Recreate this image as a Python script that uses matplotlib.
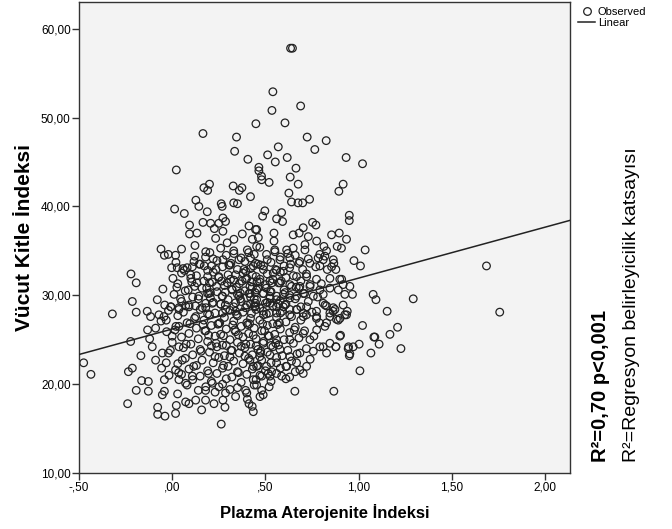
import matplotlib
matplotlib.use("Agg")
import matplotlib.pyplot as plt
from matplotlib.lines import Line2D

plt.rcParams['font.family'] = ['Liberation Sans', 'DejaVu Sans']

# points, outer / sparse part
api_outer = [0.635, 0.645, 0.54, 0.689, 0.535, 0.449, 0.605, 0.165, 0.345, 0.724, 0.826, 0.335, 0.569, 0.765,
             0.512, 0.406, 0.617, 0.553, 0.933, 1.021, 0.022, 0.465, 0.465, 0.664, 0.479, 0.52, 0.48, 0.633,
             0.676, 0.917, 0.894, 0.2, 0.17, 0.19, 0.327, 0.374, 0.36, 0.42, 0.626, 0.737, 0.127, 0.263, 0.33,
             0.35, 0.64, 0.675, 0.70,
             0.143, 0.268, 0.013, 0.065, 0.188, 0.165, 0.206, 0.25, 0.272, 0.286, 0.093, 0.133, 0.093, 0.122,
             0.226, 0.233, 0.272, 0.295, 0.331, 0.376, 0.412, 0.447, 0.43, -0.06, -0.042, -0.021, 0.018, -0.003,
             0.027, 0.058, 0.004, 0.099, 0.117, 0.108, 0.086, 0.179, 0.202, 0.172, 0.211, 0.19, 0.133, 0.238,
             0.25, 0.272, 0.304, 0.331, 0.358, 0.385, 0.403, 0.42, 0.447, 0.313, 0.34, 0.394, 0.43, -0.221,
             -0.193, -0.214, -0.193, -0.134, -0.116, -0.321, -0.007, 0.036, 0.072, 0.143, 0.197, 0.161, 0.215,
             0.268, 0.322, 0.358, 0.412, 0.447, 0.286, 0.34, 0.394, -0.044, -0.071,
             0.497, 0.485, 0.587, 0.56, 0.592, 0.95, 0.95, 0.753, 0.771, 0.703, 0.649, 0.681, 0.73, 0.855,
             0.896, 0.935, 0.908, 0.885, 1.035, 0.975, 1.01, 0.546, 0.546, 0.453, 0.462, 0.614, 0.649, 0.712,
             0.712, 0.775, 0.814, 0.792, 0.783, 0.819, 0.864, 0.855, 0.832, 0.878, 0.453, 0.506, 0.551, 0.578,
             0.631, 0.685, 0.739, 0.792, 0.435, 0.489, 0.542, 0.596, 0.667, 0.721, 0.774, 0.846, 0.909, 0.953,
             0.967, 0.926, 0.891, 0.846, 0.792, 0.739, 0.685, 0.631, 0.578, 0.524, 0.471, 1.078, 1.093, 1.293,
             1.153, 0.917, 0.939, 0.864, 0.81, 0.774, 0.721, 0.667, 0.596, 0.524, 0.453, 0.417, 0.453, 0.488,
             0.524, 0.56, 0.596, 0.631, 0.667, 0.703, 0.757, 0.81, 0.417, 0.444, 0.488, 0.56, 0.631, 0.703,
             0.774, 0.846, 0.9,
             -0.223, -0.475, -0.436, -0.168, -0.235, -0.214, -0.164, -0.128, -0.193, -0.128, -0.239, -0.078,
             -0.078, -0.039, 0.018, 0.022, 0.072, 0.09, 0.158, 0.263, 0.224, 0.283, 0.272, 0.403, 0.429, 0.412,
             -0.053, -0.042, 0.029, -0.132, -0.089, -0.121, -0.107, -0.089, -0.053, -0.032, -0.057, -0.017,
             -0.042, -0.032, -0.008, 0.036, 0.09, 0.126, 0.036, 0.0, 0.036, 0.054, 0.018, 0.036, 0.072, 0.108,
             0.179, 0.215, 0.251, 0.286, 0.34, 0.394, 0.179, 0.126,
             1.021, 1.209, 1.168, 1.087, 1.11, 1.227, 1.066, 1.007, 0.946, 0.971, 1.003, 0.953, 0.903, 0.878,
             0.935, 0.891, 0.873, 0.867, 0.658, 0.685, 0.703, 0.587, 0.533, 0.488, 0.471, 0.435, 0.453, 0.435,
             0.828, 0.792, 0.757, 0.739, 0.685, 0.631, 0.578, 0.524, 0.471, 0.488, 0.56, 0.631, 0.703, 0.775,
             0.828, 0.846, 0.775, 0.703, 0.631, 0.56, 0.721, 0.667, 0.614, 0.56, 0.506, 0.453, 0.417, 0.524,
             0.471,
             1.686, 1.757, 1.082, 0.944, 0.95, 0.899, 0.867, 0.828, 0.81, 0.899, 0.917, 0.926, 0.863, 0.881,
             0.828, 0.819, 0.846, 0.878, 0.81]
bmi_outer = [57.8, 57.8, 52.9, 51.3, 50.8, 49.3, 49.4, 48.2, 47.8, 47.8, 47.4, 46.2, 46.7, 46.4,
             45.8, 45.3, 45.5, 45.0, 45.5, 44.8, 44.1, 44.4, 44.0, 44.3, 43.4, 42.7, 43.0, 43.3,
             42.5, 42.5, 41.7, 42.5, 42.1, 41.8, 42.3, 42.1, 41.8, 41.1, 41.5, 40.8, 40.7, 40.3, 40.4,
             40.3, 40.5, 40.4, 40.4,
             40.0, 40.0, 39.7, 39.2, 39.4, 38.2, 38.1, 38.1, 38.7, 38.3, 37.9, 37.0, 36.9, 35.6,
             37.5, 36.4, 37.2, 35.9, 36.3, 36.9, 37.8, 37.4, 36.3, 35.2, 34.5, 34.6, 34.5, 33.1,
             33.1, 33.0, 31.9, 32.3, 33.8, 33.2, 30.6, 34.3, 34.8, 33.3, 33.3, 32.1, 31.4, 31.0,
             32.1, 34.0, 33.4, 34.7, 34.0, 32.9, 35.1, 34.2, 33.6, 31.8, 32.3, 31.8, 32.3, 32.4,
             31.4, 29.3, 28.1, 28.2, 27.6, 27.9, 28.7, 28.6, 28.8, 29.9, 30.2, 28.6, 29.1,
             29.9, 30.6, 29.9, 30.2, 29.1, 28.4, 28.2, 28.6, 27.6, 27.8,
             39.5, 38.9, 39.3, 38.6, 38.3, 39.0, 38.4, 38.2, 37.9, 37.6, 36.8, 37.0, 36.6, 36.8,
             37.0, 36.3, 35.3, 35.5, 35.1, 33.9, 33.3, 37.0, 36.1, 37.4, 36.5, 35.1, 35.3, 35.7,
             35.1, 36.1, 35.5, 34.6, 34.2, 34.4, 34.0, 33.2, 32.9, 32.9, 35.5, 34.6, 34.9, 34.0,
             34.2, 33.8, 33.6, 33.3, 33.3, 32.9, 32.5, 32.7, 32.1, 32.1, 31.8, 31.9, 31.8, 31.0,
             30.1, 30.1, 30.6, 30.8, 30.6, 31.0, 31.0, 31.2, 31.4, 31.6, 31.8, 30.1, 29.5, 29.6,
             28.2, 28.9, 28.2, 28.6, 29.1, 28.2, 28.7, 28.4, 28.7, 29.1, 29.5, 31.0, 30.6, 30.2,
             29.9, 29.5, 30.1, 29.7, 29.9, 30.2, 29.9, 30.1, 30.2, 28.7, 28.2, 28.0, 27.8, 27.6,
             27.4, 27.6, 27.4,
             24.8, 22.4, 21.1, 23.2, 21.4, 21.8, 20.4, 20.3, 19.3, 19.2, 17.8, 17.4,
             16.6, 16.4, 16.7, 17.6, 18.0, 17.8, 17.1, 15.5, 17.8, 17.4, 18.2, 18.3, 17.5, 17.8,
             18.8, 19.2, 18.9, 26.1, 26.3, 25.1, 24.2, 22.7, 23.5, 22.4, 21.8, 21.0,
             20.5, 27.2, 28.7, 28.4, 28.7, 27.6, 26.5, 25.4, 24.2, 22.7, 21.6, 20.5, 20.1, 20.9,
             19.3, 20.1, 19.7, 19.0, 18.6, 19.3, 18.2, 18.2,
             26.6, 26.4, 25.6, 25.3, 24.5, 24.0, 23.5, 21.5, 24.2, 24.2, 24.5, 23.4, 25.5, 24.2,
             27.8, 27.2, 28.4, 19.2, 19.2, 21.6, 21.2, 20.9, 21.4, 18.8, 18.6, 16.9, 19.9, 20.5,
             23.5, 24.2, 23.7, 25.0, 23.5, 23.1, 23.9, 23.3, 23.5, 24.6, 25.0, 25.0, 25.7, 26.1,
             26.9, 28.0, 27.6, 28.0, 28.4, 28.7, 22.0, 22.4, 22.0, 22.4, 22.0, 22.0, 22.7, 20.9,
             21.0,
             33.3, 28.1, 25.3, 24.0, 23.2, 25.4, 33.6, 35.0, 34.0, 31.8, 31.2, 27.8, 28.2, 27.3,
             28.8, 26.5, 24.6, 24.2, 24.2]

# dense core of the cloud
api_core = [0.05, 0.18, 0.26, 0.33, 0.41, 0.47, 0.55, 0.62,
            0.12, 0.22, 0.29, 0.37, 0.44, 0.51, 0.58, 0.66, 0.73,
            0.02, 0.15, 0.24, 0.31, 0.39, 0.46, 0.53, 0.60, 0.68,
            0.08, 0.19, 0.27, 0.35, 0.42, 0.49, 0.56, 0.63, 0.70, 0.77,
            0.05, 0.13, 0.22, 0.30, 0.38, 0.45, 0.51, 0.58, 0.65, 0.72,
            0.10, 0.17, 0.25, 0.33, 0.40, 0.47, 0.54, 0.61, 0.69,
            0.03, 0.12, 0.20, 0.28, 0.36, 0.43, 0.50, 0.57, 0.64, 0.74, 0.80,
            -0.05, 0.07, 0.16, 0.24, 0.32, 0.39, 0.46, 0.53, 0.60, 0.68,
            0.01, 0.11, 0.19, 0.27, 0.35, 0.42, 0.49, 0.56, 0.63, 0.71, 0.78,
            -0.08, 0.05, 0.14, 0.22, 0.30, 0.37, 0.44, 0.51, 0.58, 0.66, 0.73,
            0.09, 0.18, 0.26, 0.33, 0.40, 0.47, 0.54, 0.61, 0.69, 0.82,
            -0.02, 0.06, 0.15, 0.23, 0.31, 0.38, 0.45, 0.52, 0.59, 0.67, 0.75,
            0.03, 0.12, 0.20, 0.28, 0.35, 0.42, 0.49, 0.56, 0.64, 0.72,
            -0.06, 0.08, 0.17, 0.25, 0.33, 0.40, 0.47, 0.54, 0.61, 0.69, 0.79,
            0.02, 0.13, 0.21, 0.29, 0.37, 0.44, 0.51, 0.58, 0.66,
            -0.03, 0.09, 0.18, 0.26, 0.34, 0.41, 0.48, 0.55, 0.63, 0.71,
            0.05, 0.14, 0.23, 0.31, 0.38, 0.45, 0.52, 0.60, 0.68, 0.76,
            0.00, 0.10, 0.19, 0.27, 0.35, 0.42, 0.49, 0.57, 0.65,
            0.06, 0.15, 0.24, 0.32, 0.39, 0.46, 0.54, 0.62, 0.72,
            -0.02, 0.11, 0.20, 0.28, 0.36, 0.43, 0.51, 0.59, 0.67,
            0.07, 0.16, 0.25, 0.33, 0.41, 0.48, 0.56, 0.64, 0.74,
            0.03, 0.13, 0.22, 0.30, 0.38, 0.46, 0.53, 0.61,
            0.09, 0.19, 0.27, 0.35, 0.43, 0.50, 0.58, 0.66,
            0.05, 0.15, 0.24, 0.32, 0.40, 0.48, 0.56, 0.63,
            0.11, 0.21, 0.29, 0.37, 0.45, 0.53, 0.61,
            0.08, 0.18, 0.27, 0.35, 0.44, 0.52,
            0.14, 0.23, 0.31, 0.40, 0.48,
            0.215, 0.295, 0.375, 0.455, 0.535,
            0.205, 0.285, 0.365, 0.445, 0.525, 0.605,
            0.18, 0.26, 0.34, 0.42, 0.50, 0.57,
            0.19, 0.27, 0.345, 0.425, 0.505, 0.58,
            0.165, 0.245, 0.325, 0.405, 0.485, 0.565,
            0.195, 0.275, 0.355, 0.435, 0.515,
            0.21, 0.29, 0.37, 0.45, 0.53,
            0.23, 0.31, 0.39, 0.47,
            # third, sparser layer through the middle of the cloud
            0.065, 0.145, 0.235, 0.315, 0.395, 0.475, 0.555, 0.635,
            0.025, 0.105, 0.185, 0.265, 0.345, 0.425, 0.505, 0.585, 0.665,
            -0.04, 0.045, 0.125, 0.205, 0.285, 0.365, 0.445, 0.525, 0.605,
            0.015, 0.095, 0.175, 0.255, 0.335, 0.415, 0.495, 0.575, 0.655,
            -0.01, 0.075, 0.155, 0.235, 0.315, 0.395, 0.475, 0.555,
            0.035, 0.115, 0.195, 0.275, 0.355, 0.435, 0.515]
bmi_core = [35.2, 34.9, 35.3, 35.0, 34.8, 35.4, 35.1, 34.7,
            34.4, 34.1, 34.5, 34.2, 34.6, 34.0, 34.3, 34.5, 34.1,
            33.7, 33.5, 33.9, 33.4, 33.8, 33.5, 33.7, 33.3, 33.6,
            33.1, 32.8, 33.2, 32.9, 33.0, 33.3, 32.8, 33.1, 32.9, 33.2,
            32.5, 32.2, 32.6, 32.3, 32.5, 32.1, 32.4, 32.6, 32.2, 32.4,
            31.9, 31.6, 32.0, 31.7, 31.9, 31.5, 31.8, 32.0, 31.6,
            31.3, 31.0, 31.4, 31.1, 31.3, 30.9, 31.2, 31.4, 31.0, 31.2, 31.3,
            30.7, 30.5, 30.8, 30.4, 30.7, 30.5, 30.8, 30.4, 30.6, 30.8,
            30.1, 29.8, 30.2, 29.9, 30.1, 29.8, 30.2, 29.9, 30.0, 30.2, 29.8,
            29.5, 29.3, 29.6, 29.2, 29.5, 29.3, 29.6, 29.2, 29.4, 29.6, 29.3,
            28.9, 28.6, 29.0, 28.7, 28.9, 28.6, 28.8, 29.0, 28.7, 28.9,
            28.3, 28.1, 28.4, 28.0, 28.3, 28.1, 28.4, 28.0, 28.2, 28.4, 28.1,
            27.7, 27.4, 27.8, 27.5, 27.7, 27.4, 27.8, 27.5, 27.6, 27.8,
            27.1, 26.9, 27.2, 26.8, 27.1, 26.9, 27.2, 26.8, 27.0, 27.2, 26.9,
            26.5, 26.3, 26.6, 26.2, 26.5, 26.3, 26.6, 26.2, 26.4,
            25.9, 25.7, 26.0, 25.6, 25.9, 25.7, 26.0, 25.6, 25.8, 26.0,
            25.3, 25.1, 25.4, 25.0, 25.3, 25.1, 25.4, 25.0, 25.2, 25.4,
            24.7, 24.5, 24.8, 24.4, 24.7, 24.5, 24.8, 24.4, 24.6,
            24.1, 23.9, 24.2, 23.8, 24.1, 23.9, 24.2, 23.8, 24.0,
            23.5, 23.3, 23.6, 23.2, 23.5, 23.3, 23.6, 23.2, 23.4,
            22.9, 22.7, 23.0, 22.6, 22.9, 22.7, 23.0, 22.6, 22.8,
            22.3, 22.1, 22.4, 22.0, 22.3, 22.1, 22.4, 22.0,
            21.7, 21.5, 21.8, 21.4, 21.7, 21.5, 21.8, 21.4,
            21.1, 20.9, 21.2, 20.8, 21.1, 20.9, 21.2, 20.8,
            20.5, 20.3, 20.6, 20.2, 20.5, 20.3, 20.6,
            19.9, 19.7, 20.0, 19.6, 19.9, 19.7,
            19.3, 19.1, 19.4, 19.0, 19.3,
            31.5, 31.4, 31.6, 31.5, 31.4,
            30.3, 30.35, 30.25, 30.3, 30.4, 30.3,
            29.1, 29.0, 29.15, 29.05, 29.1, 29.0,
            27.9, 28.0, 27.85, 27.95, 27.9, 28.0,
            26.7, 26.75, 26.65, 26.7, 26.8, 26.7,
            25.5, 25.45, 25.55, 25.5, 25.45,
            24.3, 24.35, 24.25, 24.3, 24.35,
            23.1, 23.05, 23.15, 23.1,
            32.8, 33.5, 32.9, 33.6, 32.7, 33.4, 32.9, 33.5,
            30.9, 31.5, 30.8, 31.6, 30.9, 31.5, 30.8, 31.6, 30.9,
            28.9, 29.6, 28.8, 29.7, 28.9, 29.6, 28.8, 29.7, 28.9,
            26.1, 26.8, 26.0, 26.9, 26.1, 26.8, 26.0, 26.9, 26.1,
            23.8, 24.5, 23.7, 24.6, 23.8, 24.5, 23.7, 24.6,
            21.3, 22.0, 21.2, 22.1, 21.3, 22.0, 21.2]

# fitted line
fit_intercept = 26.2
fit_slope = 5.73

x_ticks = [-0.5, 0.0, 0.5, 1.0, 1.5, 2.0]
x_labels = ["-,50", ",00", ",50", "1,00", "1,50", "2,00"]
y_ticks = [10, 20, 30, 40, 50, 60]
y_labels = ["10,00", "20,00", "30,00", "40,00", "50,00", "60,00"]

fig = plt.figure(figsize=(6.72, 5.29), dpi=100)
ax = fig.add_axes([79 / 672, 56 / 529, 491 / 672, 471 / 529])
ax.set_facecolor("#f3f3f3")

api = api_outer + api_core
bmi = bmi_outer + bmi_core
ax.scatter(api, bmi, s=30, facecolors="none", edgecolors="#222222", linewidths=0.9, zorder=2)

xmin, xmax = -0.5, 2.134
ax.plot([xmin, xmax], [fit_intercept + fit_slope * xmin, fit_intercept + fit_slope * xmax],
        color="#222222", lw=1.1, zorder=3)

ax.set_xlim(xmin, xmax)
ax.set_ylim(10, 63)
ax.set_xticks(x_ticks)
ax.set_xticklabels(x_labels, fontsize=8.5)
ax.set_yticks(y_ticks)
ax.set_yticklabels(y_labels, fontsize=8.5)
ax.tick_params(direction="out", length=5, width=1, color="#333333", pad=1)
for s in ax.spines.values():
    s.set_color("#333333")
    s.set_linewidth(1)

ax.set_xlabel("Plazma Aterojenite İndeksi", fontsize=12, fontweight="bold", labelpad=8)
ax.set_ylabel("Vücut Kitle İndeksi", fontsize=15, fontweight="bold", labelpad=5)

handles = [Line2D([], [], marker="o", ls="none", mfc="none", mec="#222222", ms=5.5, mew=0.9),
           Line2D([], [], color="#222222", lw=1.1)]
fig.legend(handles, ["Observed", "Linear"], loc="upper left", bbox_to_anchor=(571 / 672, 1.0),
           frameon=False, fontsize=8, handlelength=1.6, handletextpad=0.2, labelspacing=0.1,
           borderaxespad=0.2)

fig.text(600 / 672, 67 / 529, "R²=0,70 p<0,001", rotation=90, fontsize=14.5, fontweight="bold",
         ha="center", va="bottom")
fig.text(631 / 672, 67 / 529, "R²=Regresyon belirleyicilik katsayısı", rotation=90, fontsize=14,
         ha="center", va="bottom")

fig.savefig("out.png", dpi=100)
